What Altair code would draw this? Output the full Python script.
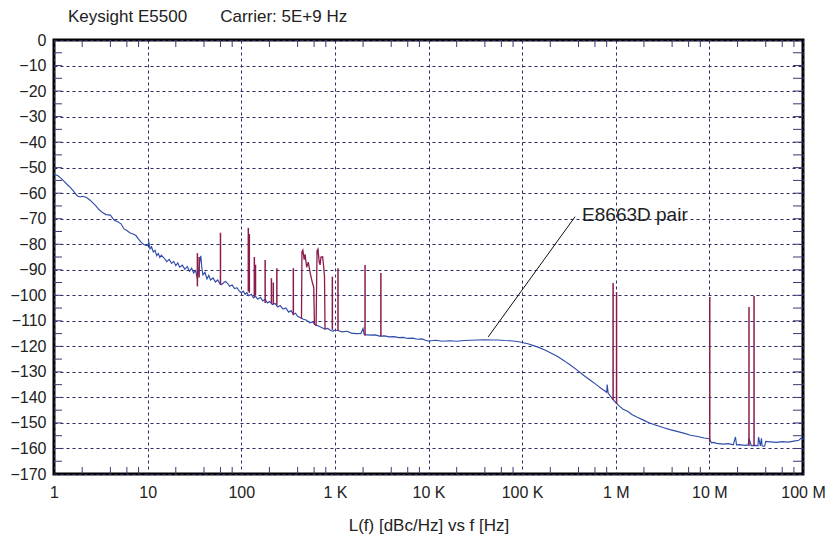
import altair as alt
import pandas as pd

# ---------------- data ----------------
title_text = "Keysight E5500\u00a0\u00a0\u00a0\u00a0\u00a0\u00a0\u00a0Carrier: 5E+9 Hz"
x_title = "L(f) [dBc/Hz] vs f [Hz]"

x_tick_vals = [1, 10, 100, 1000, 10000, 100000, 1000000, 10000000, 100000000]
x_tick_labels = ["1", "10", "100", "1 K", "10 K", "100 K", "1 M", "10 M", "100 M"]
y_tick_vals = [-170, -160, -150, -140, -130, -120, -110, -100, -90, -80,
               -70, -60, -50, -40, -30, -20, -10, 0]
y_minor = [-165, -160, -155, -150, -145, -140, -135, -130, -125, -120, -115,
           -110, -105, -100, -95, -90, -85, -80, -75, -70, -65, -60, -55, -50,
           -45, -40, -35, -30, -25, -20, -15, -10, -5]
x_minor = [2, 4, 6, 8, 20, 40, 60, 80, 200, 400, 600, 800,
           2000, 4000, 6000, 8000, 20000, 40000, 60000, 80000,
           200000, 400000, 600000, 800000, 2000000, 4000000, 6000000, 8000000,
           20000000, 40000000, 60000000, 80000000]

# blue trace: E8663D pair phase noise
blue_f = [1, 1.1, 1.2, 1.3, 1.4, 1.5, 1.6, 1.7, 1.8, 1.9, 2.0, 2.2, 2.4, 2.6, 2.8,
          3.0, 3.3, 3.6, 4.0, 4.4, 4.8, 5.2, 5.6, 6.0, 6.5, 7.0, 7.5, 8.0, 8.5, 9.0, 9.5,
          10, 10.3, 10.6, 11, 11.5, 12, 12.5, 13, 13.5, 14, 15, 16, 17, 18, 19, 20, 21, 22,
          23.5, 25, 26.5, 28, 29.5, 31, 32.5, 34, 35, 36, 37, 38, 39, 41, 43, 45, 47, 50,
          53, 56, 59, 62, 65, 68, 71, 75, 80, 85, 90, 95,
          100, 105, 110, 115, 120, 128, 135, 142, 150, 160, 170, 180, 190, 200, 215, 230,
          245, 260, 280, 300, 320, 340, 360, 380, 400, 430, 460, 500, 540, 580, 620, 670,
          720, 780, 840, 900, 960,
          1000, 1100, 1200, 1350, 1500, 1700, 1900, 2000, 2050, 2100, 2400, 2700, 3000, 3400,
          3800, 4300, 4800, 5400, 6000, 6800, 7600, 8500, 9300,
          10000, 12000, 14000, 17000, 20000, 24000, 28000, 33000, 40000, 47000, 55000,
          65000, 75000, 85000, 95000,
          100000, 115000, 130000, 150000, 175000, 200000, 240000, 280000, 330000, 390000,
          460000, 540000, 620000, 700000, 760000, 800000, 810000, 830000, 880000, 940000,
          1000000, 1100000, 1200000, 1350000, 1500000, 1700000, 2000000, 2300000, 2700000,
          3200000, 3800000, 4500000, 5300000, 6300000, 7500000, 8800000,
          10000000, 10500000, 11000000, 12000000, 14000000, 16000000, 18000000, 19000000,
          19500000, 21000000, 24000000, 26000000, 26500000, 28000000, 31000000, 33000000,
          33500000, 35000000, 36000000, 36500000, 38000000, 39000000, 40000000, 45000000,
          52000000, 60000000, 70000000, 80000000, 90000000, 95000000, 100000000]
blue_L = [-52.5, -53.2, -54.3, -55.6, -56.8, -57.8, -59.0, -60.3, -61.2, -61.5, -61.2,
          -61.6, -62.6, -63.8, -65.0, -66.3, -67.6, -68.4, -68.6, -70.6, -71.2, -72.0,
          -74.0, -74.6, -75.6, -76.0, -76.6, -78.0, -79.2, -80.0, -80.4,
          -80.5, -79.2, -81.8, -81.0, -83.0, -82.4, -84.5, -83.6, -85.2, -84.3, -85.4,
          -86.8, -85.9, -87.5, -86.7, -88.4, -87.3, -89.0, -88.2, -89.8, -88.7, -90.6,
          -89.4, -91.2, -90.3, -93.5, -90.8, -87.0, -84.5, -89.5, -92.0, -91.0, -93.6,
          -92.2, -94.0, -93.2, -94.8, -94.0, -95.4, -95.8, -95.0, -94.6, -95.2, -96.5,
          -96.0, -97.4, -97.0, -98.3,
          -99.0, -98.4, -99.6, -99.0, -100.2, -99.6, -101.0, -100.4, -101.5, -100.8,
          -102.2, -101.6, -103.0, -102.4, -103.6, -103.2, -104.6, -104.0, -105.4,
          -105.0, -106.6, -106.0, -107.4, -107.0, -108.2, -108.8, -109.4, -109.8,
          -110.8, -110.4, -111.6, -112.0, -112.6, -113.2, -113.0, -113.8, -114.0,
          -113.6, -113.9, -114.3, -114.1, -114.8, -115.0, -114.9, -113.0, -115.2, -115.4,
          -115.6, -115.5, -116.0, -115.9, -116.3, -116.2, -116.6, -116.5, -116.9, -116.8,
          -117.2, -117.1, -117.6,
          -117.9, -117.6, -118.0, -117.8, -118.0, -117.7, -117.6, -117.5, -117.4, -117.5,
          -117.5, -117.7, -117.8, -118.0, -118.3,
          -118.5, -119.0, -119.6, -120.4, -121.4, -122.5, -124.0, -125.6, -127.4, -129.4,
          -131.5, -133.4, -135.0, -136.5, -137.4, -138.0, -135.0, -138.3, -139.6, -141.0,
          -142.0, -143.5, -144.6, -145.5, -146.8, -147.8, -149.0, -150.0, -150.9, -151.8,
          -152.6, -153.3, -154.0, -154.8, -155.3, -155.9,
          -156.2, -157.8, -157.6, -158.0, -158.3, -158.1, -158.6, -155.5, -158.6, -158.5,
          -158.8, -158.6, -156.0, -158.9, -158.8, -159.0, -155.5, -159.0, -156.0, -158.9,
          -159.2, -159.0, -157.2, -157.4, -157.6, -157.3, -157.5, -157.1, -156.8, -156.0,
          -156.5]

# red trace: single spurs (frequency, foot, top)
spur_f = [34, 35.5, 60, 119, 122, 138, 142, 180, 210, 220, 240, 360, 940, 1080, 2100,
          3100, 937000, 1020000, 10100000, 26500000, 30000000]
spur_base = [-96.5, -93.0, -96.0, -98.5, -99.0, -100.6, -100.0, -103.0, -103.0, -103.5,
             -104.0, -107.8, -113.5, -114.0, -115.8, -116.0, -141.0, -142.5, -157.5,
             -159.0, -159.0]
spur_peak = [-83.5, -85.0, -75.5, -73.6, -76.0, -85.0, -88.0, -86.2, -93.3, -95.0,
             -89.4, -89.4, -92.7, -89.4, -88.1, -91.3, -95.2, -98.7, -100.7, -104.6,
             -100.3]

# red trace: broad spur clusters (polylines)
hump_g = ["a"] * 11 + ["b"] * 10
hump_f = [440, 445, 455, 470, 480, 500, 520, 545, 575, 595, 605,
          630, 645, 660, 680, 695, 710, 740, 760, 775, 785]
hump_L = [-109.3, -83.0, -82.3, -86.0, -84.0, -89.0, -87.0, -91.3, -95.0, -97.0, -111.5,
          -112.0, -82.5, -81.9, -87.0, -88.1, -85.0, -84.9, -89.0, -92.7, -113.5]

# annotation
ann_text = "E8663D pair"
ann_line_f = [43400, 368000]
ann_line_L = [-116.3, -69.2]
ann_text_f = [437000]
ann_text_L = [-68.6]

# ---------------- styling ----------------
FONT = "Liberation Sans, Arial, sans-serif"
BLUE = "#2f4cab"
RED = "#8c1c4c"
GRID = "#2a2a66"
TICK = "#3a3a70"
TXT = "#222222"
W, H = 749, 434

xs = alt.Scale(type="log", domain=[1, 1e8], nice=False)
ys = alt.Scale(domain=[-170, 0], nice=False, zero=False)

label_expr = "[" + ",".join("'" + s + "'" for s in x_tick_labels) + "][round(log(datum.value)/LN10)]"
y_label_expr = "replace(format(datum.value, 'd'), '-', '\u2212')"

df_blue = pd.DataFrame({"f": blue_f, "L": blue_L})
df_spur = pd.DataFrame({"f": spur_f, "base": spur_base, "peak": spur_peak})
df_hump = pd.DataFrame({"g": hump_g, "f": hump_f, "L": hump_L, "i": list(range(len(hump_f)))})
df_ann_line = pd.DataFrame({"f": ann_line_f, "L": ann_line_L})
df_ann_text = pd.DataFrame({"f": ann_text_f, "L": ann_text_L, "t": [ann_text]})
df_ymin = pd.DataFrame({"L": y_minor})
df_xmin = pd.DataFrame({"f": x_minor})


def X():
    return alt.X("f:Q", scale=xs, title=x_title)


def Y(field="L"):
    return alt.Y(field + ":Q", scale=ys, title=None)


blue = alt.Chart(df_blue).mark_line(color=BLUE, strokeWidth=1.15).encode(
    x=alt.X("f:Q", scale=xs, title=x_title, axis=alt.Axis(
        values=x_tick_vals, tickCount=20, labelExpr=label_expr, grid=True, ticks=False,
        domain=False, labelPadding=10, labelFontSize=16, labelFlush=False,
        labelOverlap=False, titleFontSize=17, titleFontWeight="normal",
        titleY=51, titleBaseline="middle",
        gridDash=[3, 3], gridColor=GRID, gridWidth=1, gridOpacity=1)),
    y=alt.Y("L:Q", scale=ys, title=None, axis=alt.Axis(
        values=y_tick_vals, tickCount=40, labelExpr=y_label_expr, grid=True,
        ticks=False, domain=False, labelPadding=8, labelFontSize=16, labelOverlap=False,
        gridDash=[3, 3], gridColor=GRID, gridWidth=1, gridOpacity=1)),
)

spurs = alt.Chart(df_spur).mark_rule(color=RED, strokeWidth=1.5).encode(
    x=X(), y=Y("base"), y2="peak:Q",
)

humps = alt.Chart(df_hump).mark_line(color=RED, strokeWidth=1.3).encode(
    x=X(), y=Y(), detail="g:N", order="i:Q",
)

left_ticks = alt.Chart(df_ymin).mark_rule(color=TICK, strokeWidth=1).encode(
    y=Y(), x=alt.value(0), x2=alt.value(8))
right_ticks = alt.Chart(df_ymin).mark_rule(color=TICK, strokeWidth=1).encode(
    y=Y(), x=alt.value(W - 10), x2=alt.value(W))
top_ticks = alt.Chart(df_xmin).mark_rule(color=TICK, strokeWidth=1).encode(
    x=X(), y=alt.value(0), y2=alt.value(7))
bottom_ticks = alt.Chart(df_xmin).mark_rule(color=TICK, strokeWidth=1).encode(
    x=X(), y=alt.value(H - 7), y2=alt.value(H))

ann_line = alt.Chart(df_ann_line).mark_line(color="#111111", strokeWidth=1).encode(
    x=X(), y=Y(),
)
ann_txt = alt.Chart(df_ann_text).mark_text(
    align="left", baseline="middle", font=FONT, fontSize=19, color=TXT
).encode(
    x=X(), y=Y(), text="t:N",
)

chart = alt.layer(
    blue, spurs, humps, left_ticks, right_ticks, top_ticks, bottom_ticks, ann_line, ann_txt
).properties(
    width=W, height=H,
    autosize=alt.AutoSizeParams(type="none"),
    padding={"left": 54, "top": 40, "right": 30, "bottom": 68},
    background="white",
    title=alt.TitleParams(
        text=title_text, anchor="start", frame="group", dx=14, dy=19, offset=12,
        fontSize=17, fontWeight="normal", font=FONT, color=TXT, baseline="alphabetic"),
).configure_view(
    stroke="black", strokeWidth=3
).configure_axis(
    labelFont=FONT, titleFont=FONT, labelColor=TXT, titleColor=TXT
)

chart.save("out.html", embed_options={"renderer": "svg", "actions": False})
